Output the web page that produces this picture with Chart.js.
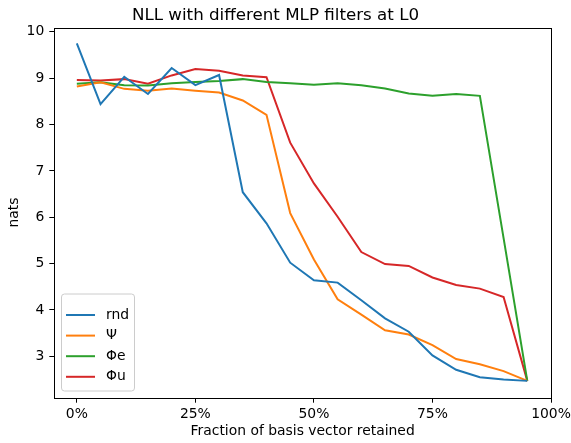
<!DOCTYPE html>
<html>
<head>
<meta charset="utf-8">
<script src="https://cdn.jsdelivr.net/npm/chart.js@4"></script>
<style>
  body { margin: 0; background: #fff; }
  #wrap { width: 571px; height: 443px; }
</style>
</head>
<body>
<div id="wrap"><canvas id="nllChart" width="571" height="443"></canvas></div>
<script>
// fraction of basis vectors retained
const fractions = [0, 0.05, 0.10, 0.15, 0.20, 0.25, 0.30, 0.35, 0.40, 0.45, 0.50, 0.55, 0.60, 0.65, 0.70, 0.75, 0.80, 0.85, 0.90, 0.95];
const seriesLabels = ['rnd', 'Ψ', 'Φe', 'Φu'];
const rnd  = [9.75, 8.44, 9.03, 8.66, 9.22, 8.85, 9.07, 6.54, 5.87, 5.02, 4.64, 4.59, 4.21, 3.82, 3.53, 3.02, 2.71, 2.55, 2.50, 2.47];
const psi  = [8.82, 8.91, 8.77, 8.73, 8.78, 8.73, 8.69, 8.52, 8.21, 6.09, 5.09, 4.23, 3.90, 3.56, 3.47, 3.24, 2.94, 2.83, 2.68, 2.47];
const phiE = [8.88, 8.91, 8.85, 8.84, 8.89, 8.92, 8.94, 8.98, 8.92, 8.89, 8.86, 8.89, 8.85, 8.78, 8.67, 8.62, 8.66, 8.62, 5.55, 2.47];
const phiU = [8.96, 8.95, 8.98, 8.88, 9.06, 9.20, 9.16, 9.06, 9.02, 7.61, 6.73, 6.01, 5.25, 4.99, 4.95, 4.70, 4.54, 4.46, 4.28, 2.47];
const xTicks = [0, 0.25, 0.5, 0.75, 1.0];
const yTicks = [3, 4, 5, 6, 7, 8, 9, 10];

const COLORS = ['#1f77b4', '#ff7f0e', '#2ca02c', '#d62728'];
const FONT = 'DejaVu Sans';

const toPoints = ys => ys.map((y, i) => ({ x: fractions[i], y }));

// no extra padding from tick labels, so the plot box lands where matplotlib put it
const noPad = s => { s.paddingLeft = 0; s.paddingRight = 0; s.paddingTop = 0; s.paddingBottom = 0; };

// matplotlib style box + legend in lower left
const frameAndLegend = {
    id: 'frameAndLegend',
    afterDraw(chart) {
        const { ctx, chartArea: a } = chart;
        ctx.save();
        ctx.strokeStyle = '#000';
        ctx.lineWidth = 1;
        ctx.strokeRect(Math.round(a.left) + 0.5, Math.round(a.top) + 0.5, Math.round(a.right - a.left), Math.round(a.bottom - a.top));

        const bx = 61.5, by = 294, bw = 73, bh = 97;
        ctx.beginPath();
        ctx.roundRect(bx, by, bw, bh, 3);
        ctx.fillStyle = 'rgba(255,255,255,0.8)';
        ctx.fill();
        ctx.strokeStyle = '#cccccc';
        ctx.stroke();

        ctx.font = `13.9px "${FONT}"`;
        ctx.textBaseline = 'middle';
        ctx.fillStyle = '#000';
        chart.data.datasets.forEach((ds, i) => {
            const y = 315 + i * 20.6;
            ctx.beginPath();
            ctx.moveTo(66, y);
            ctx.lineTo(95, y);
            ctx.strokeStyle = ds.borderColor;
            ctx.lineWidth = 2;
            ctx.stroke();
            ctx.fillText(ds.label, 106, y);
        });
        ctx.restore();
    }
};

new Chart(document.getElementById('nllChart'), {
    type: 'line',
    data: {
        datasets: [rnd, psi, phiE, phiU].map((ys, i) => ({
            label: seriesLabels[i],
            data: toPoints(ys),
            borderColor: COLORS[i],
            backgroundColor: COLORS[i],
            borderWidth: 2,
            pointRadius: 0,
            tension: 0,
            fill: false
        }))
    },
    options: {
        responsive: false,
        animation: false,
        layout: { padding: { left: 0, right: 20, top: 0, bottom: 0 } },
        plugins: {
            legend: { display: false },
            tooltip: { enabled: false },
            title: {
                display: true,
                text: 'NLL with different MLP filters at L0',
                color: '#000',
                font: { family: FONT, size: 16.7, weight: 'normal' },
                padding: { top: 6, bottom: 1.5 }
            }
        },
        scales: {
            x: {
                type: 'linear',
                min: -0.0475,
                max: 1.0,
                afterBuildTicks: s => { s.ticks = xTicks.map(v => ({ value: v })); },
                afterFit: s => { s.height = 45.3; noPad(s); },
                ticks: {
                    color: '#000',
                    font: { family: FONT, size: 13.9 },
                    padding: 3,
                    maxRotation: 0,
                    callback: v => Math.round(v * 100) + '%'
                },
                grid: { drawOnChartArea: false, drawTicks: true, tickLength: 5, color: '#000' },
                border: { display: false },
                title: {
                    display: true,
                    text: 'Fraction of basis vector retained',
                    color: '#000',
                    font: { family: FONT, size: 13.9 },
                    padding: { top: 0, bottom: 3 }
                }
            },
            y: {
                min: 2.107,
                max: 10.093,
                afterBuildTicks: s => { s.ticks = yTicks.map(v => ({ value: v })); },
                afterFit: s => { s.width = 54.3; noPad(s); },
                ticks: {
                    color: '#000',
                    font: { family: FONT, size: 13.9 },
                    padding: 5
                },
                grid: { drawOnChartArea: false, drawTicks: true, tickLength: 5, color: '#000' },
                border: { display: false },
                title: {
                    display: true,
                    text: 'nats',
                    color: '#000',
                    font: { family: FONT, size: 13.9 },
                    padding: { top: 6, bottom: 0 }
                }
            }
        }
    },
    plugins: [frameAndLegend]
});
</script>
</body>
</html>
